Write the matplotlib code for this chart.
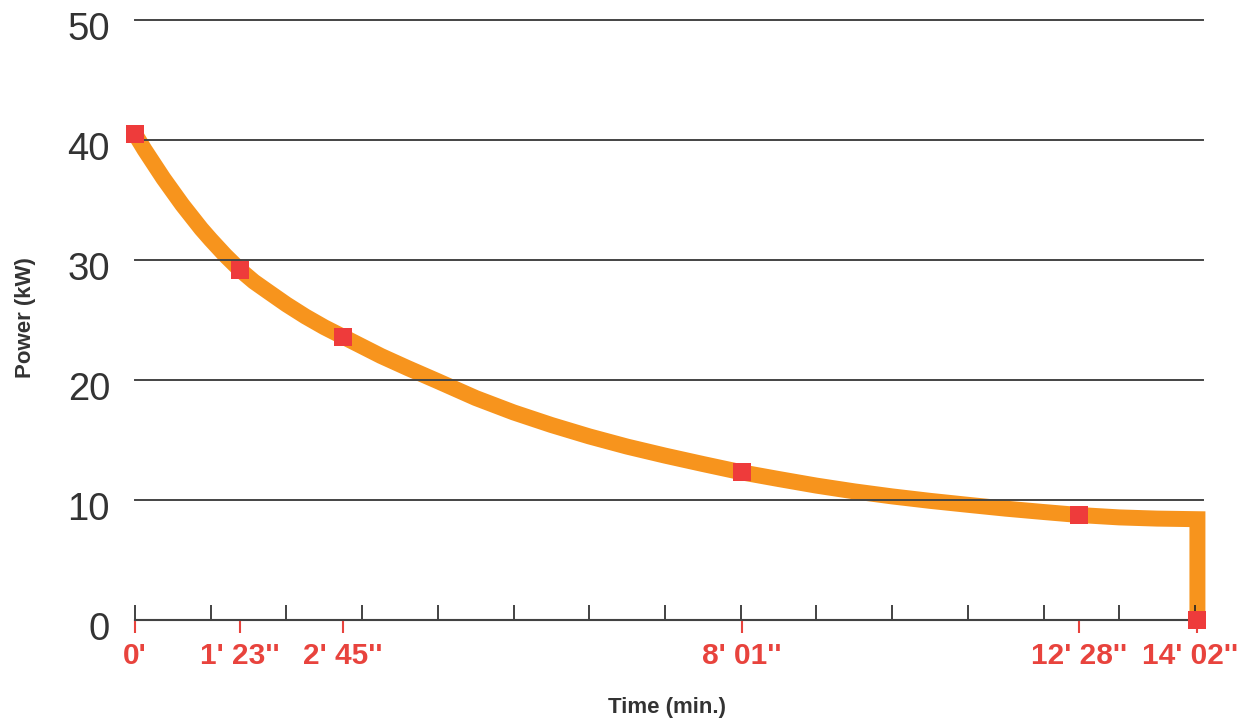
import matplotlib
matplotlib.use('Agg')
import matplotlib.pyplot as plt
from matplotlib.transforms import ScaledTranslation

plt.rcParams['font.family'] = ['Liberation Sans', 'DejaVu Sans']

# Curve readings (time in minutes, power in kW)
curve_time = [0.0, 0.125, 0.25, 0.375, 0.5, 0.625, 0.75, 0.875, 1.0, 1.19, 1.383, 1.57,
              1.75, 2.0, 2.25, 2.5, 2.75, 3.0, 3.25, 3.6, 4.0, 4.5, 5.0, 5.5, 6.0, 6.5,
              7.0, 7.5, 8.017, 8.5, 9.0, 9.5, 10.0, 10.5, 11.0, 11.5, 12.0, 12.467,
              13.0, 13.5, 14.033, 14.033]
curve_power = [40.5, 39.2, 38.0, 36.8, 35.7, 34.6, 33.6, 32.6, 31.7, 30.4, 29.2, 28.2,
               27.4, 26.3, 25.3, 24.4, 23.6, 22.8, 22.0, 21.0, 19.9, 18.5, 17.3, 16.25,
               15.3, 14.45, 13.7, 13.0, 12.3, 11.75, 11.2, 10.72, 10.3, 9.93, 9.6, 9.28,
               9.0, 8.75, 8.55, 8.45, 8.4, 0.0]

# Marked points
point_time = [0.0, 1.383, 2.75, 8.017, 12.467, 14.033]
point_power = [40.5, 29.2, 23.6, 12.3, 8.75, 0.0]
point_labels = ["0'", "1' 23''", "2' 45''", "8' 01''", "12' 28''", "14' 02''"]

minute_ticks = list(range(15))
power_ticks = [0, 10, 20, 30, 40, 50]

ORANGE = '#F7941D'
RED = '#EE3B3B'
LABEL_RED = '#E8433D'

fig = plt.figure(figsize=(12.4, 7.2), dpi=100)
ax = fig.add_axes([135 / 1240, 100 / 720, (1202.5 - 135) / 1240, 600 / 720])
ax.set_xlim(0, 14.1)
ax.set_ylim(0, 50)

for s in ['left', 'right', 'top']:
    ax.spines[s].set_visible(False)
ax.spines['bottom'].set_color('#111111')
ax.spines['bottom'].set_linewidth(1.5)
ax.spines['bottom'].set_bounds(0, point_time[-1])

ax.set_axisbelow(False)
ax.set_yticks(power_ticks)
ax.yaxis.grid(True, color='#444444', linewidth=1.4)
for gl in ax.get_ygridlines():
    gl.set_clip_on(False)
ax.tick_params(axis='y', length=0, pad=18, labelsize=27.5, labelcolor='#333333')
shift_down = ScaledTranslation(0, -6 / 100, fig.dpi_scale_trans)
for lbl in ax.get_yticklabels():
    lbl.set_transform(lbl.get_transform() + shift_down)

ax.set_xticks(point_time, point_labels)
ax.set_xticks(minute_ticks, minor=True)
ax.xaxis.remove_overlapping_locs = False
ax.tick_params(axis='x', which='major', direction='out', length=9, width=1.5,
               color=LABEL_RED, labelcolor=LABEL_RED, labelsize=21.5, pad=7)
ax.tick_params(axis='x', which='minor', direction='in', length=11, width=1.2,
               color='#222222')
xlabels = ax.get_xticklabels()
for lbl in xlabels:
    lbl.set_fontweight('bold')
shift_left = ScaledTranslation(-7 / 100, 0, fig.dpi_scale_trans)
xlabels[-1].set_transform(xlabels[-1].get_transform() + shift_left)

ax.plot(curve_time, curve_power, color=ORANGE, linewidth=11.5, solid_joinstyle='miter',
        solid_capstyle='butt', zorder=1, clip_on=False)
ax.plot(point_time, point_power, linestyle='none', marker='s', markersize=13,
        markerfacecolor=RED, markeredgewidth=0, zorder=4, clip_on=False)

fig.text(25 / 1240, 1 - 318 / 720, 'Power (kW)', rotation=90, ha='center', va='center',
         fontsize=16, fontweight='bold', color='#333333')
fig.text(667 / 1240, 1 - 707 / 720, 'Time (min.)', ha='center', va='center',
         fontsize=16, fontweight='bold', color='#333333')

fig.savefig('out.png', dpi=100, facecolor='white')
